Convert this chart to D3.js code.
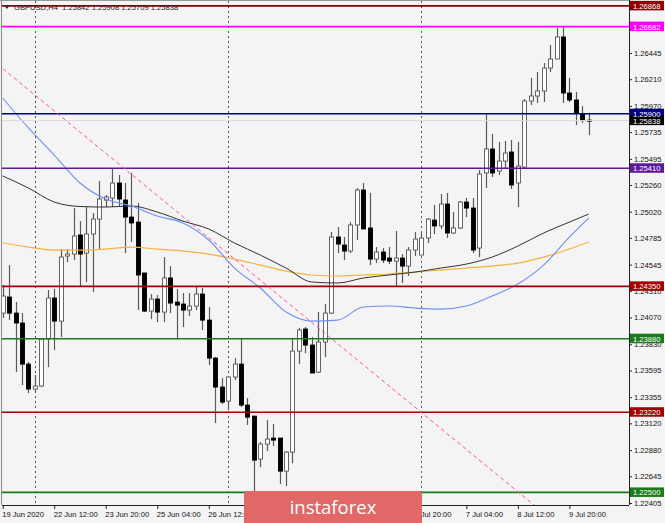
<!DOCTYPE html>
<html><head><meta charset="utf-8">
<script src="https://cdn.jsdelivr.net/npm/d3@7"></script>
<style>body{margin:0;background:#f4f4f4;overflow:hidden} svg{display:block}</style>
</head><body><svg id="c" width="665" height="523"></svg>
<script>
// ---------------- DATA ----------------
const title = "GBPUSD,H4  1.25842 1.25908 1.25709 1.25838";
const timeLabels = ["19 Jun 2020","22 Jun 12:00","23 Jun 20:00","25 Jun 04:00","26 Jun 12:00","29 Jun 20:00","1 Jul 04:00","2 Jul 12:00","3 Jul 20:00","7 Jul 04:00","8 Jul 12:00","9 Jul 20:00"];
const timeLabelBars = [0,8,16,24,32,40,48,56,64,72,80,88];
const weekStartBars = [5,35,65];
const priceTicks = [1.26445,1.26210,1.25970,1.25735,1.25495,1.25260,1.25020,1.24785,1.24545,1.24310,1.24070,1.23830,1.23595,1.23355,1.23120,1.22880,1.22645,1.22405];

const open = [1.24110,1.24254,1.24110,1.24021,1.23652,1.23428,1.23455,1.23877,1.24245,1.24038,
1.24622,1.24640,1.24811,1.24649,1.24820,1.24954,1.25125,1.25143,1.25278,1.25125,
1.24972,1.24927,1.24470,1.24128,1.24236,1.24119,1.24425,1.24209,1.24191,1.24137,
1.24173,1.24281,1.24047,1.23706,1.23446,1.23320,1.23536,1.23652,1.23284,1.23185,
1.22799,1.22934,1.22988,1.22988,1.22691,1.22862,1.23769,1.23967,1.23823,1.23580,
1.23850,1.24110,1.24793,1.24721,1.24667,1.24901,1.25215,1.24874,1.24595,1.24658,
1.24604,1.24577,1.24604,1.24532,1.24676,1.24631,1.24784,1.24945,1.24892,1.25089,
1.24829,1.24874,1.25107,1.25053,1.24694,1.25368,1.25583,1.25385,1.25475,1.25556,
1.25278,1.25421,1.26014,1.26059,1.26104,1.26310,1.26391,1.26589,1.26086,1.26023,
1.25897,1.25842];
const high = [1.24362,1.24541,1.24209,1.24110,1.23670,1.23554,1.23880,1.24317,1.24326,1.24685,
1.24685,1.25053,1.24936,1.25062,1.25008,1.25296,1.25170,1.25412,1.25350,1.25278,
1.25368,1.25098,1.24470,1.24281,1.24272,1.24613,1.24532,1.24326,1.24290,1.24290,
1.24344,1.24335,1.24164,1.23715,1.23527,1.23536,1.23706,1.23877,1.23347,1.23185,
1.22952,1.23149,1.23114,1.22988,1.22871,1.23886,1.23976,1.23985,1.23895,1.24119,
1.24191,1.24838,1.24883,1.24793,1.24927,1.25233,1.25278,1.25188,1.24703,1.24694,
1.24703,1.24847,1.24640,1.24703,1.24838,1.24838,1.24963,1.25080,1.25179,1.25188,
1.25017,1.25116,1.25143,1.25143,1.25394,1.25906,1.25718,1.25646,1.25655,1.25664,
1.25646,1.26032,1.26221,1.26274,1.26355,1.26517,1.26670,1.26682,1.26221,1.26095,
1.25969,1.25908];
const low = [1.24065,1.24047,1.23580,1.23464,1.23392,1.23401,1.23446,1.23625,1.23778,1.23895,
1.24568,1.24586,1.24344,1.24389,1.24299,1.24676,1.25062,1.25062,1.25062,1.24649,
1.24748,1.24137,1.24119,1.24056,1.24029,1.24029,1.24110,1.23877,1.23985,1.24083,
1.24137,1.23958,1.23643,1.23123,1.23293,1.23239,1.23509,1.23266,1.23105,1.22512,
1.22727,1.22871,1.22916,1.22575,1.22557,1.22763,1.23652,1.23751,1.23572,1.23572,
1.23715,1.24101,1.24649,1.24586,1.24649,1.24766,1.24865,1.24541,1.24559,1.24559,
1.24550,1.24353,1.24380,1.24443,1.24622,1.24631,1.24739,1.24820,1.24865,1.24784,
1.24820,1.24865,1.24972,1.24649,1.24613,1.25233,1.25332,1.25350,1.25403,1.25224,
1.25062,1.25403,1.25978,1.25996,1.26005,1.26274,1.26391,1.25996,1.26005,1.25799,
1.25817,1.25709];
const close = [1.24263,1.24110,1.24021,1.23652,1.23428,1.23455,1.23877,1.24245,1.24038,1.24613,
1.24640,1.24802,1.24640,1.24820,1.24954,1.25134,1.25152,1.25278,1.25134,1.24972,
1.24919,1.24452,1.24128,1.24236,1.24119,1.24425,1.24200,1.24182,1.24137,1.24173,
1.24281,1.24047,1.23706,1.23446,1.23311,1.23536,1.23652,1.23284,1.23176,1.22790,
1.22934,1.22979,1.22970,1.22691,1.22862,1.23769,1.23958,1.23823,1.23572,1.23850,
1.24110,1.24793,1.24730,1.24667,1.24901,1.25215,1.24865,1.24595,1.24658,1.24586,
1.24577,1.24604,1.24532,1.24676,1.24775,1.24784,1.24954,1.24892,1.25089,1.24829,
1.24874,1.25107,1.25053,1.24676,1.25359,1.25583,1.25368,1.25475,1.25547,1.25260,
1.25430,1.26014,1.26059,1.26104,1.26310,1.26391,1.26589,1.26086,1.26023,1.25906,
1.25843,1.25838];

const maBars   = [0,4,8,12,16,20,24,28,32,36,40,44,48,52,56,60,64,68,72,76,80,84,88,91];
const maBlue   = [1.26041,1.25772,1.25529,1.25278,1.25134,1.25071,1.24981,1.24919,1.24766,1.24514,1.24335,1.24119,1.24038,1.24047,1.24164,1.24173,1.24155,1.24146,1.24173,1.24263,1.24371,1.24541,1.24793,1.24963];
const maBlack  = [1.25341,1.25233,1.25107,1.25067,1.25062,1.25071,1.25017,1.24936,1.24865,1.24739,1.24631,1.24514,1.24389,1.24380,1.24425,1.24452,1.24478,1.24514,1.24550,1.24613,1.24712,1.24829,1.24927,1.24999];
const maOrange = [1.24739,1.24703,1.24676,1.24676,1.24685,1.24703,1.24685,1.24667,1.24640,1.24595,1.24541,1.24487,1.24452,1.24443,1.24452,1.24461,1.24478,1.24496,1.24514,1.24532,1.24559,1.24613,1.24685,1.24748];

const trendBars   = [0, 80];
const trendPrices = [1.26305, 1.22506];

const levelPrices = [1.26868, 1.26682, 1.25900, 1.25410, 1.24350, 1.23880, 1.23220, 1.22500];
const lastPrice = 1.25838;
const logoText = "instaforex";

// ---------------- STYLE / LAYOUT ----------------
const W = 665, H = 523;
const plot = {left: 2, right: 629, top: 1, bottom: 505};
const levelColors = ["#8b0000","#ff00ff","#000080","#5a1a9a","#a00000","#1b7a1b","#a00000","#1b7a1b"];
const font = "'Liberation Sans', Arial, sans-serif";

const svg = d3.select("#c");
svg.append("rect").attr("width", W).attr("height", H).attr("fill", "#f4f4f4");

const x = d3.scaleLinear().domain([0, 91]).range([2.7, 588.7]);
const y = d3.scaleLinear().domain([1.22405, 1.26445]).range([503, 53]);

svg.append("clipPath").attr("id","pc").append("rect")
  .attr("x", plot.left).attr("y", plot.top).attr("width", plot.right-plot.left).attr("height", plot.bottom-plot.top);
const g = svg.append("g").attr("clip-path","url(#pc)");

// week separators
g.selectAll("line.sep").data(weekStartBars).join("line")
  .attr("x1", d => Math.round(x(d))+0.5).attr("x2", d => Math.round(x(d))+0.5)
  .attr("y1", plot.top).attr("y2", plot.bottom)
  .attr("stroke", "#555").attr("stroke-width", 1).attr("stroke-dasharray", "2,3");

// candles
const bars = d3.range(open.length).map(i => ({i, o: open[i], h: high[i], l: low[i], c: close[i]}));
const cg = g.append("g");
cg.selectAll("line.wick").data(bars).join("line")
  .attr("x1", d => Math.round(x(d.i))+0.5).attr("x2", d => Math.round(x(d.i))+0.5)
  .attr("y1", d => y(d.h)).attr("y2", d => y(d.l))
  .attr("stroke", "#5a5a5a").attr("stroke-width", 1.2);
cg.selectAll("rect.body").data(bars).join("rect")
  .attr("x", d => Math.round(x(d.i)) - 1.5)
  .attr("y", d => y(Math.max(d.o, d.c)))
  .attr("width", 4)
  .attr("height", d => Math.max(1, Math.abs(y(d.o) - y(d.c))))
  .attr("fill", d => d.c >= d.o ? "#ffffff" : "#000000")
  .attr("stroke", d => d.c >= d.o ? "#555" : "#000")
  .attr("stroke-width", 0.9);

// moving averages
const maLine = arr => d3.line().x((d,k) => x(maBars[k])).y(d => y(d)).curve(d3.curveMonotoneX)(arr);
g.append("path").attr("d", maLine(maOrange)).attr("fill","none").attr("stroke","#f8b040").attr("stroke-width",1.2);
g.append("path").attr("d", maLine(maBlack)).attr("fill","none").attr("stroke","#333").attr("stroke-width",1);
g.append("path").attr("d", maLine(maBlue)).attr("fill","none").attr("stroke","#6d8ff0").attr("stroke-width",1.1);

// level lines
g.selectAll("line.lvl").data(levelPrices).join("line")
  .attr("x1", plot.left).attr("x2", plot.right)
  .attr("y1", d => y(d)).attr("y2", d => y(d))
  .attr("stroke", (d,k) => levelColors[k]).attr("stroke-width", 1.6);
// last price faint line
g.append("line").attr("x1", plot.left).attr("x2", plot.right)
  .attr("y1", y(lastPrice)).attr("y2", y(lastPrice))
  .attr("stroke", "#d8d8e8").attr("stroke-width", 1);

// trend line (ray through two points)
const slope = (trendPrices[1]-trendPrices[0])/(trendBars[1]-trendBars[0]);
const tb0 = -5, tb1 = 100;
g.append("line")
  .attr("x1", x(tb0)).attr("y1", y(trendPrices[0] + slope*(tb0-trendBars[0])))
  .attr("x2", x(tb1)).attr("y2", y(trendPrices[0] + slope*(tb1-trendBars[0])))
  .attr("stroke", "#ff4fa8").attr("stroke-width", 1).attr("stroke-dasharray", "4,3");

// frame
svg.append("line").attr("x1", plot.left-0.5).attr("x2", plot.left-0.5).attr("y1", 0).attr("y2", plot.bottom).attr("stroke","#888").attr("stroke-width",1);
svg.append("line").attr("x1", 0).attr("x2", plot.right).attr("y1", 0.5).attr("y2", 0.5).attr("stroke","#999").attr("stroke-width",1);

// right price axis
const ya = d3.axisRight(y).tickValues(priceTicks).tickFormat(d3.format(".5f")).tickSize(3).tickPadding(2);
const yg = svg.append("g").attr("transform", `translate(${plot.right},0)`).call(ya);
yg.select(".domain").attr("d", `M0.5,0V${plot.bottom}`).attr("stroke","#222");
yg.selectAll("text").attr("font-family", font).attr("font-size", 7.6).attr("fill","#111");
yg.selectAll(".tick line").attr("stroke","#222");

// bottom time axis
const xa = d3.axisBottom(x).tickValues(timeLabelBars).tickFormat((d,k) => timeLabels[k]).tickSize(4).tickPadding(3);
const xg = svg.append("g").attr("transform", `translate(0,${plot.bottom})`).call(xa);
xg.select(".domain").attr("d", `M${plot.left},0.5H${plot.right}`).attr("stroke","#222");
xg.selectAll("text").attr("text-anchor","start").attr("font-family", font).attr("font-size", 7.6).attr("fill","#111").attr("dx", -1);
xg.selectAll(".tick line").attr("stroke","#222");

// level label boxes
const boxes = levelPrices.map((p,k) => ({p, col: levelColors[k]})).concat([{p: lastPrice, col: "#000"}]);
const bg = svg.append("g");
bg.selectAll("rect").data(boxes).join("rect")
  .attr("x", plot.right+1).attr("y", d => y(d.p) - 5).attr("width", 34).attr("height", 9.5)
  .attr("fill", d => d.col);
bg.selectAll("text").data(boxes).join("text")
  .attr("x", plot.right+4).attr("y", d => y(d.p) + 3)
  .attr("font-family", font).attr("font-size", 7.6).attr("fill","#fff")
  .text(d => d3.format(".5f")(d.p));

// title
svg.append("path").attr("d","M4,5 L10,5 L7,9 Z").attr("fill","#333");
svg.append("text").attr("x", 14).attr("y", 10).attr("font-family", font).attr("font-size", 7.6).attr("fill","#222")
  .attr("xml:space","preserve").style("white-space","pre").text(title);

// logo watermark
svg.append("rect").attr("x", 244).attr("y", 491).attr("width", 178).attr("height", 34).attr("rx", 3).attr("fill", "#e26767");
svg.append("text").attr("x", 333).attr("y", 514).attr("text-anchor","middle").attr("font-family","'Open Sans', sans-serif")
  .attr("font-size", 18.5).attr("fill","#fff").text(logoText);
</script>
</body></html>
